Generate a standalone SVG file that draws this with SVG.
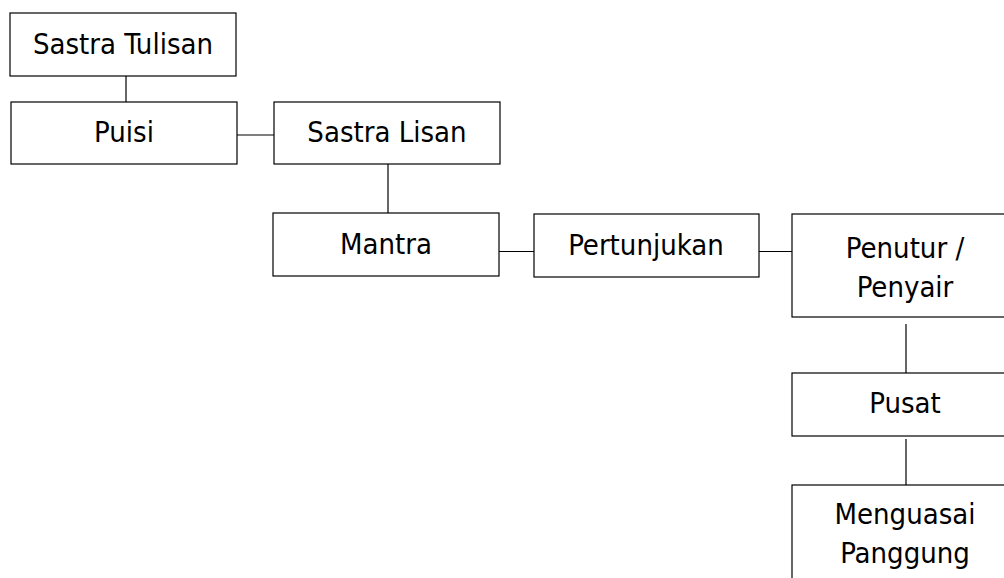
<svg xmlns="http://www.w3.org/2000/svg" width="1004" height="578" viewBox="0 0 1004 578">
<style>
.box{fill:#fff;stroke:#000;stroke-width:1.2}
.lbl{font-family:"DejaVu Sans Condensed","DejaVu Sans",sans-serif;font-size:29px;fill:#000;text-anchor:middle}
.con line{stroke:#000;stroke-width:1.2}
</style>
<rect width="1004" height="578" fill="#fff"/>
<g id="connectors" class="con">
<line x1="126" y1="76" x2="126" y2="102"/>
<line x1="237" y1="135" x2="274" y2="135"/>
<line x1="388" y1="164" x2="388" y2="213"/>
<line x1="499" y1="251.5" x2="534" y2="251.5"/>
<line x1="759" y1="251.5" x2="792" y2="251.5"/>
<line x1="906" y1="324" x2="906" y2="373"/>
<line x1="906" y1="439" x2="906" y2="485"/>
</g>
<g id="sastra-tulisan"><rect class="box" x="10" y="13" width="226" height="63"/><text class="lbl" x="123" y="54">Sastra Tulisan</text></g>
<g id="puisi"><rect class="box" x="11" y="102" width="226" height="62"/><text class="lbl" x="124" y="142">Puisi</text></g>
<g id="sastra-lisan"><rect class="box" x="274" y="102" width="226" height="62"/><text class="lbl" x="387" y="142">Sastra Lisan</text></g>
<g id="mantra"><rect class="box" x="273" y="213" width="226" height="63"/><text class="lbl" x="386" y="254">Mantra</text></g>
<g id="pertunjukan"><rect class="box" x="534" y="214" width="225" height="63"/><text class="lbl" x="646" y="255">Pertunjukan</text></g>
<g id="penutur-penyair"><rect class="box" x="792" y="214" width="226" height="103"/><text class="lbl" x="905" y="258">Penutur /</text><text class="lbl" x="905" y="297">Penyair</text></g>
<g id="pusat"><rect class="box" x="792" y="373" width="226" height="63"/><text class="lbl" x="905" y="413">Pusat</text></g>
<g id="menguasai-panggung"><rect class="box" x="792" y="485" width="226" height="103"/><text class="lbl" x="905" y="524">Menguasai</text><text class="lbl" x="905" y="563">Panggung</text></g>
</svg>
